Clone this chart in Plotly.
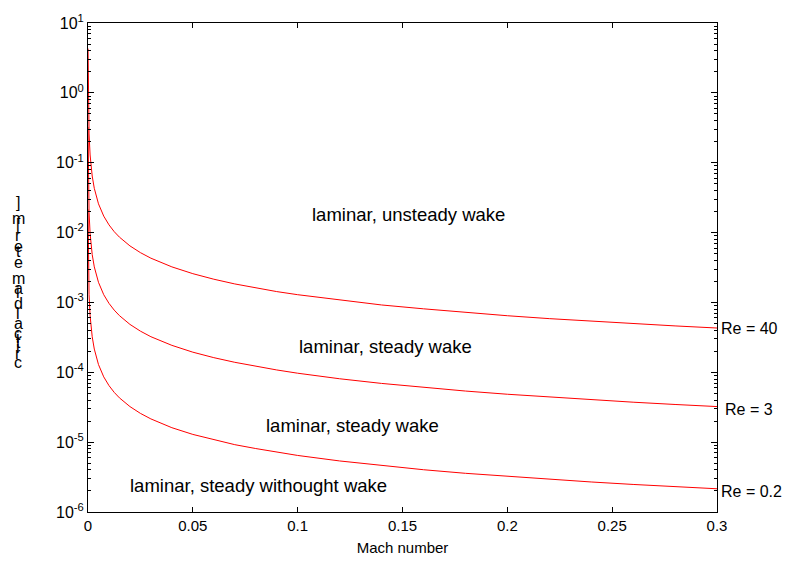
import plotly.graph_objects as go

# ---- data ----
mach = [0.00003, 0.0001, 0.0002, 0.0005, 0.001, 0.002, 0.003, 0.005, 0.0075, 0.01,
        0.0125, 0.015, 0.02, 0.025, 0.03, 0.04, 0.05, 0.06, 0.07, 0.08, 0.09, 0.1,
        0.12, 0.14, 0.16, 0.18, 0.2, 0.22, 0.24, 0.26, 0.28, 0.3]

d_re40 = [4.3, 1.29, 0.645, 0.258, 0.129, 0.0645, 0.043, 0.0258, 0.0172, 0.0129,
          0.0103, 0.0086, 0.00645, 0.00516, 0.0043, 0.00323, 0.00258, 0.00215, 0.00184,
          0.00161, 0.00143, 0.00129, 0.00108, 0.00092, 0.00081, 0.00072, 0.000645,
          0.000586, 0.000538, 0.000496, 0.000461, 0.00043]

d_re3 = [0.323, 0.097, 0.0485, 0.0194, 0.0097, 0.00485, 0.00323, 0.00194, 0.00129, 0.00097,
         0.000776, 0.000647, 0.000485, 0.000388, 0.000323, 0.000243, 0.000194, 0.000162,
         0.000139, 0.000121, 0.000108, 0.000097, 0.0000808, 0.0000693, 0.0000606,
         0.0000539, 0.0000485, 0.0000441, 0.0000404, 0.0000373, 0.0000346, 0.0000323]

d_re02 = [0.0215, 0.00645, 0.00323, 0.00129, 0.000645, 0.000323, 0.000215, 0.000129,
          0.000086, 0.0000645, 0.0000516, 0.000043, 0.0000323, 0.0000258, 0.0000215,
          0.0000161, 0.0000129, 0.0000108, 0.0000092, 0.0000081, 0.0000072, 0.00000645,
          0.00000538, 0.00000461, 0.00000403, 0.00000358, 0.00000323, 0.00000293,
          0.00000269, 0.00000248, 0.0000023, 0.00000215]

series_labels = ["Re = 40", "Re = 3", "Re = 0.2"]
region_labels = ["laminar, unsteady wake", "laminar, steady wake",
                 "laminar, steady wake", "laminar, steady withought wake"]
x_title = "Mach number"
y_title = "critical diameter [m]"
x_ticks = [0, 0.05, 0.1, 0.15, 0.2, 0.25, 0.3]
x_ticktext = ["0", "0.05", "0.1", "0.15", "0.2", "0.25", "0.3"]
y_ticks = [1e-6, 1e-5, 1e-4, 1e-3, 1e-2, 1e-1, 1e0, 1e1]
y_ticktext = ["10<sup>-6</sup>", "10<sup>-5</sup>", "10<sup>-4</sup>", "10<sup>-3</sup>",
              "10<sup>-2</sup>", "10<sup>-1</sup>", "10<sup>0</sup>", "10<sup>1</sup>"]

# ---- layout geometry ----
W, H = 798, 571
L, R, T, B = 88, 717, 20, 512
FONT = "Arial, Liberation Sans, sans-serif"


def px(xp):
    return (xp - L) / (R - L)


def py(yp):
    return (B - yp) / (B - T)


fig = go.Figure()
for d in (d_re40, d_re3, d_re02):
    fig.add_trace(go.Scatter(x=mach, y=d, mode="lines",
                             line=dict(color="#ff0000", width=1),
                             showlegend=False, hoverinfo="skip"))

ann = []
for text, (cx, cy) in zip(region_labels, [(408, 213), (385, 345), (352, 425), (258, 485)]):
    ann.append(dict(text=text, x=px(cx), y=py(cy), xref="paper", yref="paper",
                    xanchor="center", yanchor="middle", showarrow=False,
                    font=dict(family=FONT, size=18.5, color="black")))
for text, (lx, ly) in zip(series_labels, [(719, 327), (723, 409), (719, 491)]):
    ann.append(dict(text=text, x=px(lx), y=py(ly), xref="paper", yref="paper",
                    xanchor="left", yanchor="middle", showarrow=False,
                    font=dict(family=FONT, size=16, color="black")))

# y-axis title drawn as upright stacked characters (as in the reference)
widths = {"c": 500, "r": 333, "i": 222, "t": 278, "a": 556, "l": 222, " ": 278,
          "d": 556, "m": 833, "e": 556, "[": 278, "]": 278}
pos = 0
cum = []
for ch in y_title:
    cum.append(pos)
    pos += widths.get(ch, 500)
last = cum[-1]
for ch, c in zip(y_title, cum):
    if ch == " ":
        continue
    yp = 362 - (c / last) * (362 - 201)
    ann.append(dict(text=ch, x=px(18), y=py(yp), xref="paper", yref="paper",
                    xanchor="center", yanchor="middle", showarrow=False,
                    font=dict(family=FONT, size=16, color="black")))

minor_vals = [m * 10 ** e for e in range(-6, 1) for m in range(2, 10)]

fig.update_layout(
    width=W, height=H,
    margin=dict(l=L, r=W - R, t=T, b=H - B, pad=0),
    paper_bgcolor="white", plot_bgcolor="white",
    font=dict(family=FONT, size=15, color="black"),
    annotations=ann,
    xaxis=dict(range=[0, 0.3], tickvals=x_ticks, ticktext=x_ticktext,
               ticks="inside", ticklen=5, tickcolor="black",
               showline=True, linecolor="black", linewidth=1, mirror="ticks",
               showgrid=False, zeroline=False,
               title=dict(text=x_title, standoff=9, font=dict(size=15)),
               tickfont=dict(size=15)),
    yaxis=dict(type="log", range=[-6, 1], tickvals=y_ticks, ticktext=y_ticktext,
               ticks="inside", ticklen=6, tickcolor="black",
               minor=dict(ticks="inside", ticklen=3, tickcolor="black",
                          tickvals=minor_vals, showgrid=False),
               showline=True, linecolor="black", linewidth=1, mirror="ticks",
               showgrid=False, zeroline=False,
               tickfont=dict(size=16)),
)

fig.write_html("out.html")
